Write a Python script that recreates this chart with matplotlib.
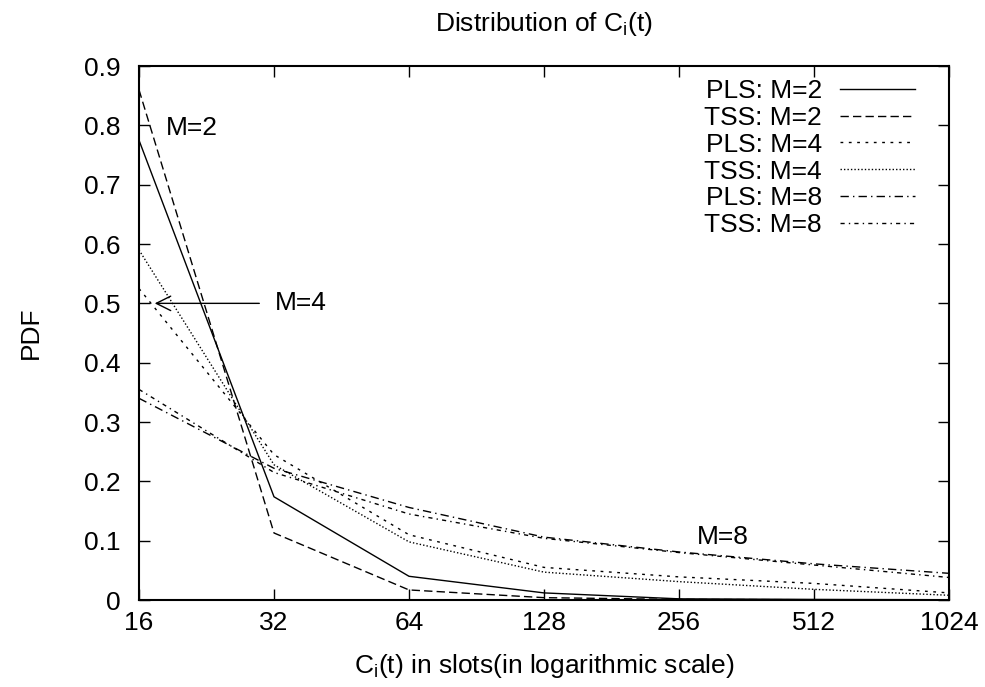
import matplotlib.pyplot as plt
from matplotlib.ticker import FixedLocator, NullLocator

plt.rcParams['font.family'] = ['Liberation Sans', 'DejaVu Sans']
plt.rcParams['mathtext.fontset'] = 'custom'
plt.rcParams['mathtext.rm'] = 'Liberation Sans'
plt.rcParams['mathtext.it'] = 'Liberation Sans'

# slot counts on the x axis
slots = [16, 32, 64, 128, 256, 512, 1024]

# PDF values per scheme and M
pls_m2 = [0.775, 0.174, 0.040, 0.012, 0.002, 0.001, 0.0005]
tss_m2 = [0.860, 0.113, 0.017, 0.004, 0.001, 0.0005, 0.0002]
pls_m4 = [0.525, 0.245, 0.110, 0.055, 0.039, 0.028, 0.012]
tss_m4 = [0.590, 0.228, 0.098, 0.047, 0.031, 0.018, 0.008]
pls_m8 = [0.340, 0.222, 0.156, 0.106, 0.081, 0.061, 0.045]
tss_m8 = [0.355, 0.215, 0.145, 0.104, 0.080, 0.059, 0.038]

labels = ['PLS: M=2', 'TSS: M=2', 'PLS: M=4', 'TSS: M=4', 'PLS: M=8', 'TSS: M=8']
series = [pls_m2, tss_m2, pls_m4, tss_m4, pls_m8, tss_m8]
styles = ['-', (0, (6, 3)), (0, (2, 4)), (0, (1, 1.5)),
          (0, (6, 3, 1, 3)), (0, (3, 3, 1, 3))]

FS = 19

fig = plt.figure(figsize=(9.85, 6.87), dpi=100)
ax = fig.add_axes([0.1411, 0.1266, 0.8224, 0.7773])

for vals, lab, ls in zip(series, labels, styles):
    ax.plot(slots, vals, color='black', lw=1.0, linestyle=ls, label=lab)

ax.set_xscale('log', base=2)
ax.set_xlim(16, 1024)
ax.set_ylim(0, 0.9)
ax.xaxis.set_major_locator(FixedLocator(slots))
ax.xaxis.set_minor_locator(NullLocator())
ax.set_xticklabels([str(s) for s in slots])
ax.set_yticks([i / 10 for i in range(10)])
ax.set_yticklabels(['0'] + ['%.1f' % (i / 10) for i in range(1, 10)])
ax.tick_params(direction='in', length=8, width=1, labelsize=FS,
               top=True, right=True)
ax.tick_params(axis='x', pad=8)
ax.tick_params(axis='y', pad=13)
for sp in ax.spines.values():
    sp.set_linewidth(1.5)

ax.set_title(r'Distribution of $\mathregular{C_i}$(t)', fontsize=FS, pad=25)
ax.set_xlabel(r'$\mathregular{C_i}$(t) in slots(in logarithmic scale)', fontsize=FS, labelpad=12)
ax.set_ylabel('PDF', fontsize=FS, labelpad=30)

# curve annotations
ax.text(18.4, 0.795, 'M=2', fontsize=FS, va='center', ha='left')
ax.annotate('', xy=(17.1, 0.5), xytext=(30.1, 0.5),
            arrowprops=dict(arrowstyle='->', color='black', lw=1,
                            mutation_scale=26))
ax.text(32.2, 0.5, 'M=4', fontsize=FS, va='center', ha='left')
ax.text(280, 0.107, 'M=8', fontsize=FS, va='center', ha='left')

ax.legend(loc='upper right', bbox_to_anchor=(0.958, 0.976), frameon=False,
          markerfirst=False, fontsize=FS, handlelength=2.85,
          handletextpad=0.68, labelspacing=0.11, borderaxespad=0, borderpad=0)

fig.savefig('out.png', dpi=100)
